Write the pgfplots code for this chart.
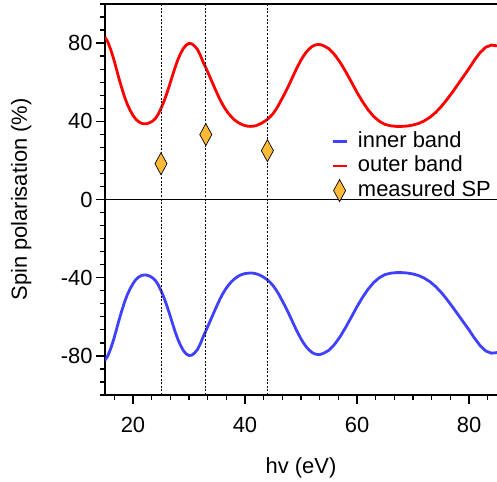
\documentclass[border=0pt]{standalone}
\usepackage{fontspec}
\setmainfont{Liberation Sans}
\usepackage{pgfplots}
\pgfplotsset{compat=1.18}
\usepackage{pgfplotstable}
\definecolor{sred}{RGB}{255,0,0}
\definecolor{sblue}{RGB}{64,64,255}
\definecolor{sporange}{RGB}{255,186,56}

\pgfplotstableread{
x y
15 83.0
15.5 80.6
16 76.8
16.5 72.4
17 67.2
17.5 61.8
18 57.0
18.5 52.4
19 48.6
19.5 45.6
20 43.0
20.5 41.1
21 39.8
21.5 39.0
22 38.7
22.5 38.8
23 39.3
23.5 40.1
24 41.4
24.5 43.6
25 46.6
25.5 50.0
26 53.9
26.5 58.3
27 62.9
27.5 67.4
28 71.4
28.5 74.7
29 77.3
29.5 79.0
30 79.9
30.5 79.6
31 78.5
31.5 76.8
32 74.0
32.5 70.4
33 67.4
33.5 64.2
34 60.9
34.5 57.6
35 54.4
35.5 51.3
36 48.6
36.5 46.2
37 44.2
37.5 42.5
38 41.0
38.5 39.9
39 39.0
39.5 38.3
40 37.8
40.5 37.5
41 37.4
41.5 37.5
42 37.8
42.5 38.4
43 39.1
43.5 40.0
44 41.0
44.5 42.3
45 43.9
45.5 45.9
46 48.3
46.5 51.0
47 53.7
47.5 56.5
48 59.5
48.5 62.6
49 65.7
49.5 68.6
50 71.3
50.5 73.6
51 75.6
51.5 77.1
52 78.3
52.5 79.0
53 79.3
53.5 79.2
54 78.7
55 77.1
56 74.1
57 70.1
58 65.3
59 60.1
60 54.8
61 50.0
62 45.8
63 42.4
64 40.0
65 38.4
66 37.7
67 37.4
68 37.4
69 37.6
70 38.1
71 38.9
72 40.2
73 42.0
74 44.4
75 47.4
76 50.9
77 54.7
78 58.8
79 62.9
80 67.0
81 71.4
82 75.2
83 77.9
84 79.0
85 78.6
}\outerband

\pgfplotstableread{
x y
15 -82.2
15.5 -80.0
16 -76.4
16.5 -72.1
17 -67.0
17.5 -61.7
18 -56.9
18.5 -52.4
19 -48.6
19.5 -45.6
20 -43.0
20.5 -41.0
21 -39.7
21.5 -38.9
22 -38.6
22.5 -38.7
23 -39.2
23.5 -40.1
24 -41.4
24.5 -43.6
25 -46.6
25.5 -50.0
26 -53.9
26.5 -58.3
27 -62.9
27.5 -67.4
28 -71.4
28.5 -74.7
29 -77.3
29.5 -79.0
30 -79.8
30.5 -79.6
31 -78.5
31.5 -76.8
32 -74.0
32.5 -70.4
33 -67.2
33.5 -64.0
34 -60.7
34.5 -57.4
35 -54.2
35.5 -51.1
36 -48.4
36.5 -46.0
37 -44.0
37.5 -42.3
38 -40.9
38.5 -39.8
39 -38.9
39.5 -38.3
40 -37.9
40.5 -37.7
41 -37.6
41.5 -37.7
42 -38.0
42.5 -38.5
43 -39.2
43.5 -40.1
44 -41.1
44.5 -42.4
45 -44.0
45.5 -46.0
46 -48.3
46.5 -51.0
47 -53.7
47.5 -56.5
48 -59.5
48.5 -62.6
49 -65.7
49.5 -68.6
50 -71.3
50.5 -73.6
51 -75.6
51.5 -77.1
52 -78.3
52.5 -79.0
53 -79.3
53.5 -79.2
54 -78.7
55 -77.1
56 -74.1
57 -70.1
58 -65.3
59 -60.1
60 -54.8
61 -50.0
62 -45.8
63 -42.4
64 -40.0
65 -38.4
66 -37.7
67 -37.4
68 -37.4
69 -37.6
70 -38.1
71 -38.9
72 -40.2
73 -42.0
74 -44.4
75 -47.4
76 -50.9
77 -54.7
78 -58.7
79 -62.7
80 -66.7
81 -71.0
82 -74.8
83 -77.5
84 -78.6
85 -78.3
}\innerband

\pgfplotstableread{
x y
25 18.3
33 33.2
44 25.0
}\measured

\pgfplotsset{
  linelegend/.style={legend image code/.code={\draw[##1] (0bp,0bp) -- (14bp,0bp);}},
  marklegend/.style={legend image code/.code={\draw[##1] plot coordinates {(7bp,0bp)};}},
}

\begin{document}
\begin{tikzpicture}
\begin{axis}[
  name=ax,
  scale only axis,
  width=392bp, height=391bp,
  xmin=15, xmax=85, ymin=-100, ymax=100,
  axis x line*=box, axis y line*=left,
  xtick={0,20,...,100}, ytick={-120,-80,...,120},
  minor x tick num=5, minor y tick num=5,
  xtick pos=left, ytick pos=left,
  tick align=outside,
  major tick length=9bp, minor tick length=5bp,
  every tick/.style={black, line width=1.3bp},
  axis line style={black, line width=1.6bp},
  font=\fontsize{22}{26}\selectfont,
  tick label style={font=\fontsize{22}{26}\selectfont},
  xticklabel style={yshift=-10bp},
  /pgf/number format/assume math mode=true,
  xlabel={hv (eV)},
  ylabel={Spin polarisation (\%)},
  xlabel style={at={(axis description cs:0.5,-0.1995)}, anchor=base},
  ylabel style={at={(axis description cs:-0.199,0.5)}, anchor=base},
  legend cell align=left,
  legend style={draw=none, fill=none, inner sep=0pt, column sep=8bp,
    at={(axis description cs:0.5765,0.680)}, anchor=north west,
    nodes={inner sep=2bp, text height=16bp, text depth=4.5bp},
    font=\fontsize{22}{26}\selectfont},
]
\addplot[black, line width=0.9bp, forget plot] coordinates {(15,0) (85,0)};
\addplot[sblue, line width=2.8bp, linelegend] table[x=x,y=y] {\innerband};
\addlegendentry{inner band}
\addplot[sred, line width=2.8bp, linelegend] table[x=x,y=y] {\outerband};
\addlegendentry{outer band}
\addplot[only marks, mark=diamond*, mark size=11bp,
  mark options={xscale=0.73, fill=sporange, draw=black, line width=0.7bp},
  marklegend]
  table[x=x,y=y] {\measured};
\addlegendentry{measured SP}
\addplot[black, line width=1bp, dash pattern=on 2bp off 1.6bp, forget plot] coordinates {(25,-100) (25,100)};
\addplot[black, line width=1bp, dash pattern=on 2bp off 1.6bp, forget plot] coordinates {(33,-100) (33,100)};
\addplot[black, line width=1bp, dash pattern=on 2bp off 1.6bp, forget plot] coordinates {(44,-100) (44,100)};
\end{axis}
\pgfresetboundingbox
\useasboundingbox ([shift={(-105bp,-86bp)}]ax.south west) rectangle ([shift={(0bp,4bp)}]ax.north east);
\end{tikzpicture}
\end{document}
